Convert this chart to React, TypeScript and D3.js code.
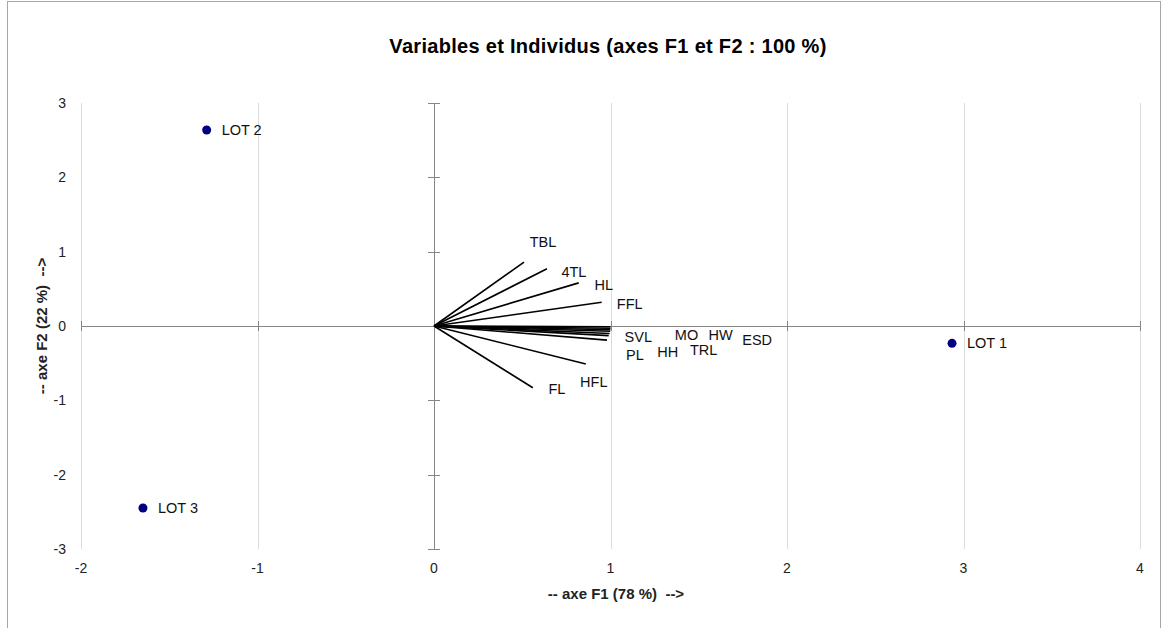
import React from "react";
import * as d3 from "d3";

// variables (correlations on F1 / F2)
const varNames = ["TBL", "4TL", "HL", "FFL", "SVL", "MO", "HW", "ESD", "PL", "HH", "TRL", "HFL", "FL"];
const varF1 = [0.51, 0.64, 0.82, 0.95, 0.999, 1.0, 1.0, 0.998, 0.98, 0.99, 0.995, 0.86, 0.56];
const varF2 = [0.86, 0.77, 0.58, 0.32, -0.05, -0.01, -0.03, -0.07, -0.19, -0.13, -0.1, -0.51, -0.83];

// individuals
const obsNames = ["LOT 1", "LOT 2", "LOT 3"];
const obsF1 = [2.935, -1.288, -1.649];
const obsF2 = [-0.233, 2.637, -2.449];

const xTicks = [-2, -1, 0, 1, 2, 3, 4];
const yTicks = [-3, -2, -1, 0, 1, 2, 3];

// label placement (pixel offset from the arrow tip)
const labelShift: Record<string, [number, number]> = {
  TBL: [19, -20],
  "4TL": [27, 3],
  HL: [25, 2],
  FFL: [28, 2],
  SVL: [28, 7],
  MO: [76, 8],
  HW: [110, 7],
  ESD: [147, 9],
  PL: [28, 15],
  HH: [59, 16],
  TRL: [94, 16],
  HFL: [8, 18],
  FL: [24, 1],
};

const W = 1163;
const H = 628;
const font = "'Liberation Sans', Arial, Helvetica, sans-serif";

export default function App() {
  const x = d3.scaleLinear().domain([-2, 4]).range([81, 1140]);
  const y = d3.scaleLinear().domain([-3, 3]).range([549, 103]);
  const x0 = x(0);
  const y0 = y(0);

  return (
    <svg
      width={W}
      height={H}
      style={{ position: "absolute", left: 0, top: 0, background: "#fff" }}
      fontFamily={font}
    >
      <rect x={7.5} y={1.5} width={1153} height={H + 20} fill="none" stroke="#a6a6a6" />

      <text x={608} y={53} textAnchor="middle" fontSize={20} fontWeight="bold" fill="#000" letterSpacing={0.3}>
        Variables et Individus (axes F1 et F2 : 100 %)
      </text>

      {/* vertical gridlines */}
      {xTicks.map((t) => (
        <line
          key={"g" + t}
          x1={Math.round(x(t)) + 0.5}
          x2={Math.round(x(t)) + 0.5}
          y1={y(3)}
          y2={y(-3)}
          stroke="#dcdcdc"
        />
      ))}

      {/* axes through origin */}
      <line x1={x(-2)} x2={x(4)} y1={Math.round(y0) + 0.5} y2={Math.round(y0) + 0.5} stroke="#868686" />
      <line x1={Math.round(x0) + 0.5} x2={Math.round(x0) + 0.5} y1={y(3)} y2={y(-3)} stroke="#868686" />
      {xTicks.map((t) => (
        <line
          key={"xt" + t}
          x1={Math.round(x(t)) + 0.5}
          x2={Math.round(x(t)) + 0.5}
          y1={y0 - 5}
          y2={y0 + 5}
          stroke="#868686"
        />
      ))}
      {yTicks.map((t) => (
        <line
          key={"yt" + t}
          x1={x0 - 6}
          x2={x0 + 6}
          y1={Math.round(y(t)) + 0.5}
          y2={Math.round(y(t)) + 0.5}
          stroke="#868686"
        />
      ))}

      {/* tick labels */}
      {xTicks.map((t) => (
        <text key={"xl" + t} x={x(t)} y={568} dy="0.35em" textAnchor="middle" fontSize={14} fill="#222">
          {t}
        </text>
      ))}
      {yTicks.map((t) => (
        <text key={"yl" + t} x={66} y={y(t)} dy="0.35em" textAnchor="end" fontSize={14} fill="#222">
          {t}
        </text>
      ))}

      {/* axis titles */}
      <text
        x={616}
        y={599}
        textAnchor="middle"
        fontSize={15}
        fontWeight="bold"
        fill="#222"
        style={{ whiteSpace: "pre" }}
      >
        {"-- axe F1 (78 %)  -->"}
      </text>
      <text
        transform={`translate(47,${y0}) rotate(-90)`}
        textAnchor="middle"
        fontSize={15}
        fontWeight="bold"
        fill="#222"
        style={{ whiteSpace: "pre" }}
      >
        {"-- axe F2 (22 %)  -->"}
      </text>

      {/* variable vectors */}
      {varNames.map((n, i) => (
        <line
          key={"v" + n}
          x1={x0}
          y1={y0}
          x2={x(varF1[i])}
          y2={y(varF2[i])}
          stroke="#000"
          strokeWidth={1.6}
        />
      ))}
      {varNames.map((n, i) => {
        const [dx, dy] = labelShift[n] || [10, 0];
        return (
          <text
            key={"vl" + n}
            x={x(varF1[i]) + dx}
            y={y(varF2[i]) + dy}
            dy="0.35em"
            textAnchor="middle"
            fontSize={14.5}
            fill="#111"
          >
            {n}
          </text>
        );
      })}

      {/* individuals */}
      {obsNames.map((n, i) => (
        <g key={"o" + n}>
          <circle cx={x(obsF1[i])} cy={y(obsF2[i])} r={4.5} fill="#000080" />
          <text x={x(obsF1[i]) + 15} y={y(obsF2[i])} dy="0.35em" fontSize={14.5} fill="#111">
            {n}
          </text>
        </g>
      ))}
    </svg>
  );
}
